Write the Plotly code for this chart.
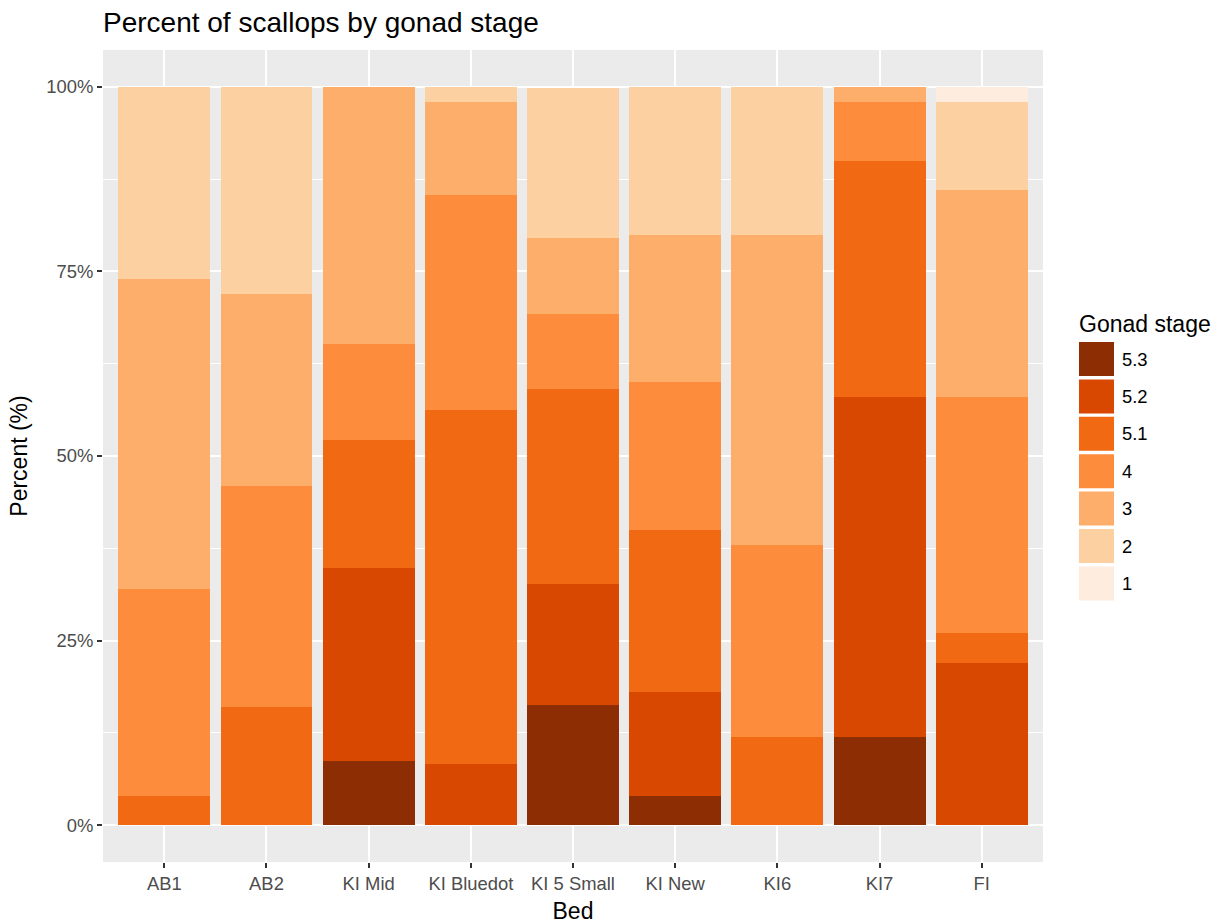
import plotly.graph_objects as go

beds = ["AB1", "AB2", "KI Mid", "KI Bluedot", "KI 5 Small", "KI New", "KI6", "KI7", "FI"]
stages = ["5.3", "5.2", "5.1", "4", "3", "2", "1"]
colors = {"5.3": "#8C2D04", "5.2": "#D94801", "5.1": "#F16913", "4": "#FD8D3C",
          "3": "#FDAE6B", "2": "#FDD0A2", "1": "#FEEDDE"}

pct_5_3 = [0, 0, 8.7, 0, 16.3, 4, 0, 12, 0]
pct_5_2 = [0, 0, 26.1, 8.3, 16.3, 14, 0, 46, 22]
pct_5_1 = [4, 16, 17.4, 47.9, 26.5, 22, 12, 32, 4]
pct_4 = [28, 30, 13.0, 29.2, 10.2, 20, 26, 8, 32]
pct_3 = [42, 26, 34.8, 12.5, 10.2, 20, 42, 2, 28]
pct_2 = [26, 28, 0, 2.1, 20.4, 20, 20, 0, 12]
pct_1 = [0, 0, 0, 0, 0, 0, 0, 0, 2]

series = {"5.3": pct_5_3, "5.2": pct_5_2, "5.1": pct_5_1, "4": pct_4,
          "3": pct_3, "2": pct_2, "1": pct_1}

yticks = [0, 25, 50, 75, 100]
yticklabels = ["0%", "25%", "50%", "75%", "100%"]

FONT = "Liberation Sans, Arial, sans-serif"
BASE = 23
TICK = 18.4
TITLE = 28

W, H = 1225, 924
# plot panel in page pixels
PX0, PX1, PY0, PY1 = 103, 1043, 50, 862
PW, PH = PX1 - PX0, PY1 - PY0
L, T = PX0, PY0
R, B = W - L - PW, H - T - PH

fig = go.Figure()
for s in stages:
    fig.add_trace(go.Bar(x=beds, y=series[s], name=s, width=0.9,
                         marker=dict(color=colors[s], line=dict(width=0)),
                         showlegend=False))

def px2paper_x(px):
    return (px - PX0) / PW

def px2paper_y(py):
    return (PY1 - py) / PH

# ggplot-style legend
shapes = []
annotations = []
key_top0, pitch, key_h = 342, 37.4, 34
for i, s in enumerate(stages):
    top = key_top0 + i * pitch
    shapes.append(dict(type="rect", xref="paper", yref="paper",
                       x0=px2paper_x(1079), x1=px2paper_x(1114),
                       y0=px2paper_y(top + key_h), y1=px2paper_y(top),
                       fillcolor=colors[s], line=dict(width=0)))
    annotations.append(dict(text=s, xref="paper", yref="paper",
                            x=px2paper_x(1120), y=px2paper_y(top + key_h / 2),
                            xanchor="left", yanchor="middle", showarrow=False,
                            font=dict(family=FONT, size=TICK, color="#000000")))
annotations.append(dict(text="Gonad stage", xref="paper", yref="paper",
                        x=px2paper_x(1077), y=px2paper_y(324),
                        xanchor="left", yanchor="middle", showarrow=False,
                        font=dict(family=FONT, size=BASE, color="#000000")))

fig.update_layout(
    barmode="stack",
    width=W, height=H,
    margin=dict(l=L, r=R, t=T, b=B, autoexpand=False),
    paper_bgcolor="white",
    plot_bgcolor="#EBEBEB",
    font=dict(family=FONT, color="#000000"),
    title=dict(text="Percent of scallops by gonad stage", x=0, xref="paper", xanchor="left",
               y=1 - 22 / H, yref="container", yanchor="middle",
               font=dict(family=FONT, size=TITLE, color="#000000")),
    shapes=shapes,
    annotations=annotations,
    bargap=0,
)

fig.update_xaxes(
    type="category", range=[-0.6, 8.6], automargin=False,
    showgrid=True, gridcolor="white", gridwidth=2,
    ticks="outside", ticklen=5, tickcolor="#333333", tickwidth=1.5,
    tickfont=dict(family=FONT, size=TICK, color="#4D4D4D"),
    title=dict(text="Bed", font=dict(family=FONT, size=BASE, color="#000000"), standoff=10),
    zeroline=False, showline=False,
)
fig.update_yaxes(
    range=[-5, 105], tickvals=yticks, ticktext=yticklabels, automargin=False,
    showgrid=True, gridcolor="white", gridwidth=2,
    minor=dict(tickvals=[12.5, 37.5, 62.5, 87.5], showgrid=True, gridcolor="white",
               gridwidth=1, ticks=""),
    ticks="outside", ticklen=5, tickcolor="#333333", tickwidth=1.5,
    tickfont=dict(family=FONT, size=TICK, color="#4D4D4D"),
    title=dict(text="Percent (%)", font=dict(family=FONT, size=BASE, color="#000000"), standoff=12),
    zeroline=False, showline=False,
)

fig.write_html("out.html", config={"displayModeBar": False},
               post_script="document.body.style.margin='0';document.body.style.overflow='hidden';")
